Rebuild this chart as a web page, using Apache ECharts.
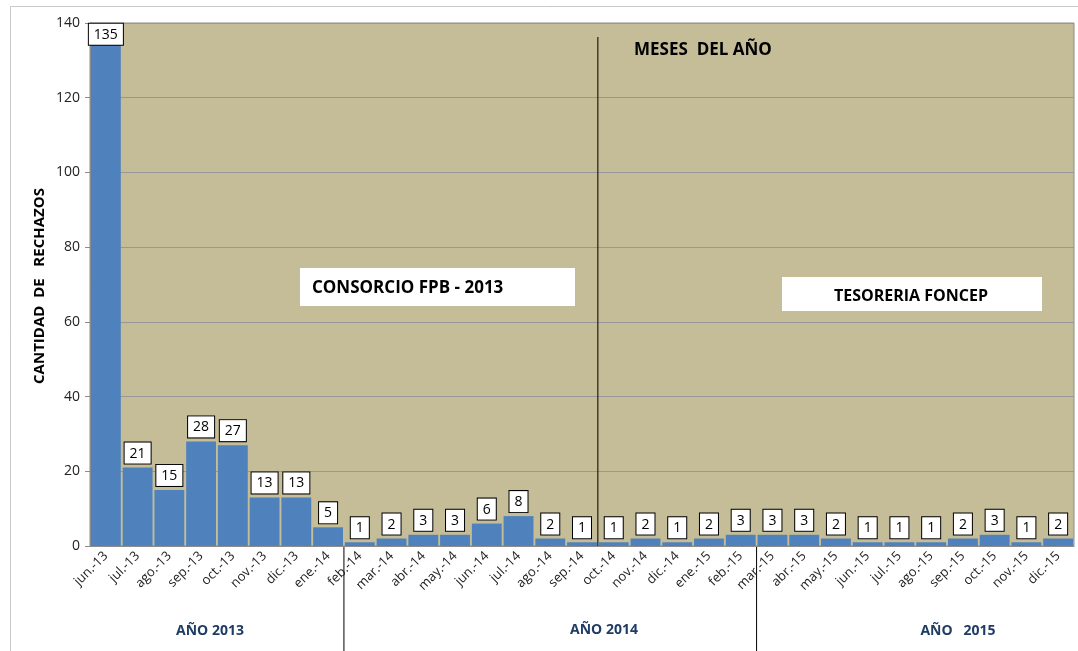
<!DOCTYPE html>
<html lang="es">
<head>
    <meta charset="UTF-8">
    <title>Rechazos por mes</title>
    <style>
        html, body { margin: 0; padding: 0; background: #fff; }
        #main { width: 1078px; height: 651px; }
    </style>
    <script src="https://cdn.jsdelivr.net/npm/echarts@6/dist/echarts.min.js"></script>
</head>
<body>
<div id="main"></div>
<script type="text/javascript">
    // meses (jun.-13 .. dic.-15)
    var months = ['jun.-13', 'jul.-13', 'ago.-13', 'sep.-13', 'oct.-13', 'nov.-13', 'dic.-13',
        'ene.-14', 'feb.-14', 'mar.-14', 'abr.-14', 'may.-14', 'jun.-14', 'jul.-14', 'ago.-14',
        'sep.-14', 'oct.-14', 'nov.-14', 'dic.-14', 'ene.-15', 'feb.-15', 'mar.-15', 'abr.-15',
        'may.-15', 'jun.-15', 'jul.-15', 'ago.-15', 'sep.-15', 'oct.-15', 'nov.-15', 'dic.-15'];
    var rechazos = [135, 21, 15, 28, 27, 13, 13,
        5, 1, 2, 3, 3, 6, 8, 2, 1, 1, 2, 1,
        2, 3, 3, 3, 2, 1, 1, 1, 2, 3, 1, 2];
    var yTicks = [0, 20, 40, 60, 80, 100, 120, 140];
    // separadores (posicion en limites de categoria)
    var splitMeses = 16;      // entre sep.-14 y oct.-14
    var splitAnios = [8, 21]; // bajo el eje

    var font = "'Open Sans', 'Noto Sans', sans-serif";
    var myChart = echarts.init(document.getElementById('main'));

    var barData = rechazos.map(function (v, i) {
        if (i === 0) {
            return { value: v, label: { distance: -3 } };
        }
        return v;
    });

    var option = {
        animation: false,
        backgroundColor: '#ffffff',
        textStyle: { fontFamily: font },
        grid: { left: 90, top: 23, right: 4, bottom: 105, show: true, backgroundColor: '#C4BD97', borderColor: '#8C8C8C', borderWidth: 1 },
        xAxis: [{
            type: 'category',
            data: months,
            axisLine: { lineStyle: { color: '#8C8C8C' } },
            axisTick: { length: 5, lineStyle: { color: '#8C8C8C' } },
            axisLabel: { rotate: 45, fontSize: 13, color: '#222', margin: 8, interval: 0 }
        }, {
            type: 'value', min: 0, max: months.length, show: false
        }],
        yAxis: {
            type: 'value',
            min: yTicks[0], max: yTicks[yTicks.length - 1], interval: 20,
            axisLine: { show: true, lineStyle: { color: '#8C8C8C' } },
            axisTick: { show: true, length: 5, lineStyle: { color: '#8C8C8C' } },
            axisLabel: { fontSize: 14, color: '#222', margin: 10 },
            splitLine: { lineStyle: { color: '#979797', width: 1 } }
        },
        series: [{
            type: 'bar',
            data: barData,
            barCategoryGap: '6%',
            itemStyle: { color: '#4F81BD' },
            label: {
                show: true, position: 'top', distance: 4,
                fontSize: 14, color: '#000',
                backgroundColor: '#fff', borderColor: '#000', borderWidth: 1,
                padding: [4, 5, 3, 5]
            }
        }]
    };
    myChart.setOption(option);

    // posiciones de lineas divisorias a partir de la escala
    var yAxis0 = myChart.convertToPixel({ yAxisIndex: 0 }, 0);
    var xMes = myChart.convertToPixel({ xAxisIndex: 1 }, splitMeses);
    var lines = [{
        type: 'line', shape: { x1: xMes, y1: 37, x2: xMes, y2: yAxis0 },
        style: { stroke: '#000', lineWidth: 1 }
    }];
    splitAnios.forEach(function (p) {
        var x = myChart.convertToPixel({ xAxisIndex: 1 }, p);
        lines.push({ type: 'line', shape: { x1: x, y1: yAxis0, x2: x, y2: 651 }, style: { stroke: '#000', lineWidth: 1 } });
    });

    var graphics = [
        { type: 'rect', shape: { x: 10.5, y: 6.5, width: 1080, height: 700 }, style: { fill: null, stroke: '#C8C8C8', lineWidth: 1 }, z: 0 },
        { type: 'text', x: 40, y: 286, rotation: Math.PI / 2,
          style: { text: 'CANTIDAD  DE   RECHAZOS', font: 'bold 15px ' + font, fill: '#000', align: 'center', verticalAlign: 'middle' } },
        { type: 'text', x: 634, y: 50,
          style: { text: 'MESES  DEL AÑO', font: 'bold 17px ' + font, fill: '#000', verticalAlign: 'middle' } },
        { type: 'rect', shape: { x: 300, y: 268, width: 275, height: 38 }, style: { fill: '#fff' } },
        { type: 'text', x: 312, y: 288,
          style: { text: 'CONSORCIO FPB - 2013', font: 'bold 17px ' + font, fill: '#000', verticalAlign: 'middle' } },
        { type: 'rect', shape: { x: 782, y: 277, width: 260, height: 34 }, style: { fill: '#fff' } },
        { type: 'text', x: 911, y: 296,
          style: { text: 'TESORERIA FONCEP', font: 'bold 16px ' + font, fill: '#000', align: 'center', verticalAlign: 'middle' } },
        { type: 'text', x: 210, y: 631,
          style: { text: 'AÑO 2013', font: 'bold 14px ' + font, fill: '#1F3C64', align: 'center', verticalAlign: 'middle' } },
        { type: 'text', x: 604, y: 630,
          style: { text: 'AÑO 2014', font: 'bold 14px ' + font, fill: '#1F3C64', align: 'center', verticalAlign: 'middle' } },
        { type: 'text', x: 958, y: 631,
          style: { text: 'AÑO   2015', font: 'bold 14px ' + font, fill: '#1F3C64', align: 'center', verticalAlign: 'middle' } }
    ].concat(lines);

    myChart.setOption({ graphic: graphics });
</script>
</body>
</html>
